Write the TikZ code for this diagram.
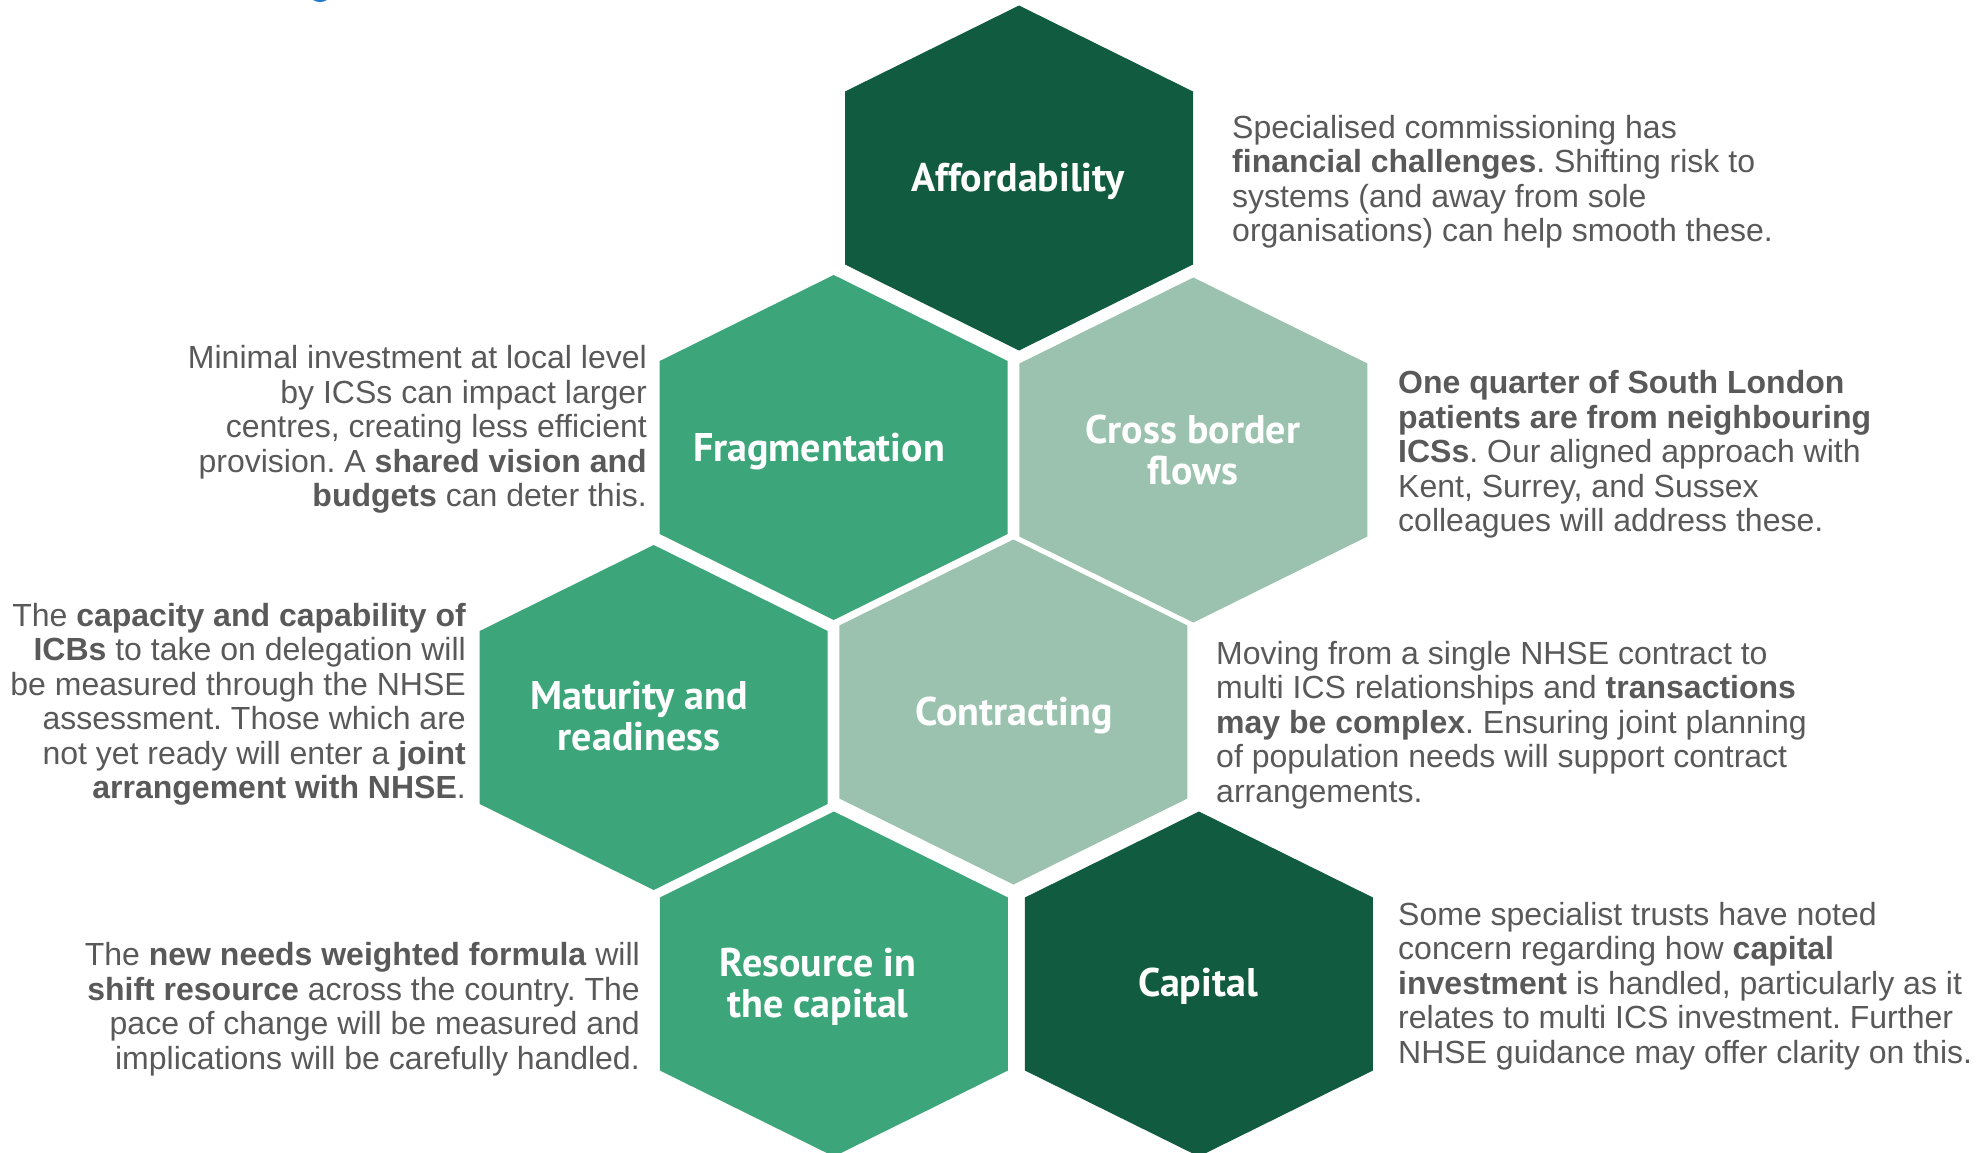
\documentclass[tikz,border=0pt]{standalone}
\usepackage{fontspec}
\setmainfont{Liberation Sans}
\newfontfamily\hexfont{PT Sans}
\frenchspacing
\definecolor{hexdark}{HTML}{115B40}
\definecolor{hexmid}{HTML}{3CA67A}
\definecolor{hexlight}{HTML}{9AC2AE}
\definecolor{bodygray}{HTML}{595959}
\definecolor{titleblue}{HTML}{1F78D1}
% one honeycomb cell, centred at (#1,#2), filled with #3
\newcommand\honeycell[3]{%
  \fill[#3,shift={(#1,#2)}] (0,-172.5) -- (174,-86.5) -- (174,86.5) -- (0,172.5)
    -- (-174,86.5) -- (-174,-86.5) -- cycle;}
\begin{document}
\begin{tikzpicture}[x=1pt,y=-1pt,
  celllabel/.style={text=white,align=center,inner sep=0pt,
    font=\hexfont\bfseries\fontsize{40}{40.5}\selectfont},
  note/.style={text=bodygray,inner sep=0pt,
    font=\fontsize{32}{34.5}\selectfont},
  noteleft/.style={note,align=left,anchor=north west},
  noteright/.style={note,align=right,anchor=north east}]
\useasboundingbox (0,0) rectangle (1980,1153);
\fill[white] (0,0) rectangle (1980,1153);
% cut-off heading above the picture
\begin{scope}
  \clip (0,0) rectangle (1980,1153);
  \fill[titleblue] (320,-4) ellipse [x radius=9, y radius=6];
\end{scope}

% honeycomb
\begin{scope}
  \clip (0,0) rectangle (1980,1153);
  \honeycell{1019}{178}{hexdark}
  \honeycell{833.7}{447.5}{hexmid}
  \honeycell{1193.4}{450}{hexlight}
  \honeycell{653.7}{717.5}{hexmid}
  \honeycell{1013.4}{712}{hexlight}
  \honeycell{833.9}{984}{hexmid}
  \honeycell{1198.9}{984}{hexdark}
\end{scope}

% cell titles
\node[celllabel] (afford) at (1018,181) {Affordability};
\node[celllabel] (frag) at (819,452) {Fragmentation};
\node[celllabel] (cross) at (1193,450) {Cross border\\flows};
\node[celllabel] (matur) at (639,716) {Maturity and\\readiness};
\node[celllabel] (contr) at (1014,715) {Contracting};
\node[celllabel] (resou) at (818,987) {Resource in\\the capital};
\node[celllabel] (capit) at (1198,986) {Capital};

% explanatory notes
\node[noteleft] (affordnote) at (1232,115) {Specialised commissioning has\\
  \textbf{financial challenges}. Shifting risk to\\
  systems (and away from sole\\
  organisations) can help smooth these.};
\node[noteleft] (crossnote) at (1398,370.5) {\textbf{One quarter of South London}\\
  \textbf{patients are from neighbouring}\\
  \textbf{ICSs}. Our aligned approach with\\
  Kent, Surrey, and Sussex\\
  colleagues will address these.};
\node[noteleft] (contrnote) at (1216,641) {Moving from a single NHSE contract to\\
  multi ICS relationships and \textbf{transactions}\\
  \textbf{may be complex}. Ensuring joint planning\\
  of population needs will support contract\\
  arrangements.};
\node[noteleft] (capitnote) at (1398,902) {Some specialist trusts have noted\\
  concern regarding how \textbf{capital}\\
  \textbf{investment} is handled, particularly as it\\
  relates to multi ICS investment. Further\\
  NHSE guidance may offer clarity on this.};
\node[noteright] (fragnote) at (647,345.5) {Minimal investment at local level\\
  by ICSs can impact larger\\
  centres, creating less efficient\\
  provision. A \textbf{shared vision and}\\
  \textbf{budgets} can deter this.};
\node[noteright] (maturnote) at (466,603) {The \textbf{capacity and capability of}\\
  \textbf{ICBs} to take on delegation will\\
  be measured through the NHSE\\
  assessment. Those which are\\
  not yet ready will enter a \textbf{joint}\\
  \textbf{arrangement with NHSE}.};
\node[noteright] (resounote) at (640,942.5) {The \textbf{new needs weighted formula} will\\
  \textbf{shift resource} across the country. The\\
  pace of change will be measured and\\
  implications will be carefully handled.};
\end{tikzpicture}
\end{document}
